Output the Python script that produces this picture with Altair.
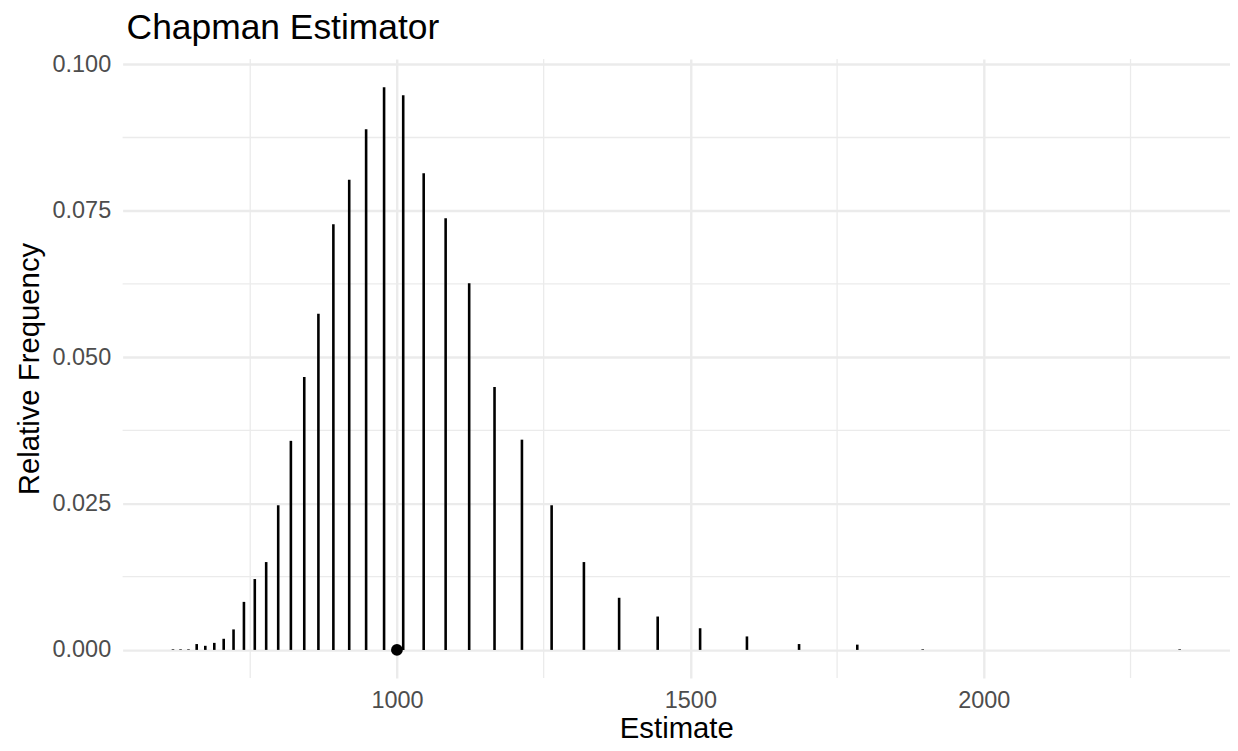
import altair as alt
import pandas as pd

# Chapman estimates (x) and their relative frequencies (y)
estimate = [618.4, 631.3, 644.8, 658.8, 673.5, 688.8, 704.8, 721.6, 739.3, 757.8,
            777.2, 797.7, 819.3, 842.1, 866.2, 891.7, 918.7, 947.5, 978.1, 1010.7,
            1045.6, 1083.0, 1123.1, 1166.3, 1213.0, 1263.6, 1318.6, 1378.6, 1444.3,
            1516.6, 1596.4, 1685.2, 1784.4, 1895.9, 2333.7]
rel_freq = [0.0001, 0.0001, 0.0001, 0.0010, 0.0007, 0.0012, 0.0019, 0.0035, 0.0082, 0.0121,
            0.0150, 0.0247, 0.0357, 0.0466, 0.0574, 0.0727, 0.0803, 0.0889, 0.0961, 0.0947,
            0.0814, 0.0737, 0.0626, 0.0449, 0.0359, 0.0247, 0.0150, 0.0089, 0.0057,
            0.0037, 0.0023, 0.0010, 0.0009, 0.0001, 0.0001]

true_n = [1000]
true_y = [0.0]

x_ticks = [1000, 1500, 2000]
x_minor = [750, 1250, 1750, 2250]
y_ticks = [0.0, 0.025, 0.05, 0.075, 0.1]
y_minor = [0.0125, 0.0375, 0.0625, 0.0875]

x_domain = [532.6, 2419.5]
y_domain = [-0.0048, 0.1009]

W, H = 1111, 621
FONT = "Liberation Sans"
GRID = "#EBEBEB"

df = pd.DataFrame({"Estimate": estimate, "freq": rel_freq})
pt = pd.DataFrame({"Estimate": true_n, "freq": true_y})
xm = pd.DataFrame({"v": x_minor})
ym = pd.DataFrame({"v": y_minor})

xscale = alt.Scale(domain=x_domain, nice=False, zero=False)
yscale = alt.Scale(domain=y_domain, nice=False, zero=False)

xaxis = alt.Axis(values=x_ticks, title="Estimate", grid=True, gridColor=GRID, gridWidth=2.4,
                 domain=False, ticks=False, labelPadding=11, labelFontSize=23.5,
                 labelColor="#4D4D4D", labelFont=FONT, titleFont=FONT, titleFontSize=29.4,
                 titleColor="black", titleFontWeight="normal", titleX=W / 2, titleY=60,
                 titleBaseline="alphabetic", titleAlign="center", format="d")
yaxis = alt.Axis(values=y_ticks, title="Relative Frequency", grid=True, gridColor=GRID,
                 gridWidth=2.4, domain=False, ticks=False, labelPadding=12,
                 labelFontSize=23.5, labelColor="#4D4D4D", labelFont=FONT, format=".3f",
                 titleFont=FONT, titleFontSize=29.4, titleColor="black",
                 titleFontWeight="normal", titleAngle=270, titleX=-84, titleY=H / 2,
                 titleBaseline="alphabetic", titleAlign="center")

minor_x = alt.Chart(xm).mark_rule(color=GRID, strokeWidth=1.3).encode(
    x=alt.X("v:Q", scale=xscale, axis=xaxis))
minor_y = alt.Chart(ym).mark_rule(color=GRID, strokeWidth=1.3).encode(
    y=alt.Y("v:Q", scale=yscale, axis=yaxis))

segs = alt.Chart(df).mark_rule(color="black", strokeWidth=2.6).encode(
    x=alt.X("Estimate:Q", scale=xscale, axis=xaxis),
    y=alt.Y("freq:Q", scale=yscale, axis=yaxis),
    y2=alt.datum(0),
)
dot = alt.Chart(pt).mark_circle(color="black", opacity=1, size=140).encode(
    x=alt.X("Estimate:Q", scale=xscale, axis=xaxis),
    y=alt.Y("freq:Q", scale=yscale, axis=yaxis),
)

chart = alt.layer(minor_x, minor_y, segs, dot).properties(
    width=W, height=H,
    background="white",
    title=alt.TitleParams("Chapman Estimator", anchor="start", frame="group",
                          fontSize=35.5, font=FONT, fontWeight="normal", color="black",
                          baseline="alphabetic", offset=19, dx=4, dy=41),
    autosize=alt.AutoSizeParams(type="none"),
    padding={"left": 115, "top": 50, "right": 0, "bottom": 64},
).configure_view(
    strokeWidth=0, stroke="transparent"
).configure_axis(
    domain=False
)

chart.save("out.html", embed_options={"renderer": "svg", "actions": False})
